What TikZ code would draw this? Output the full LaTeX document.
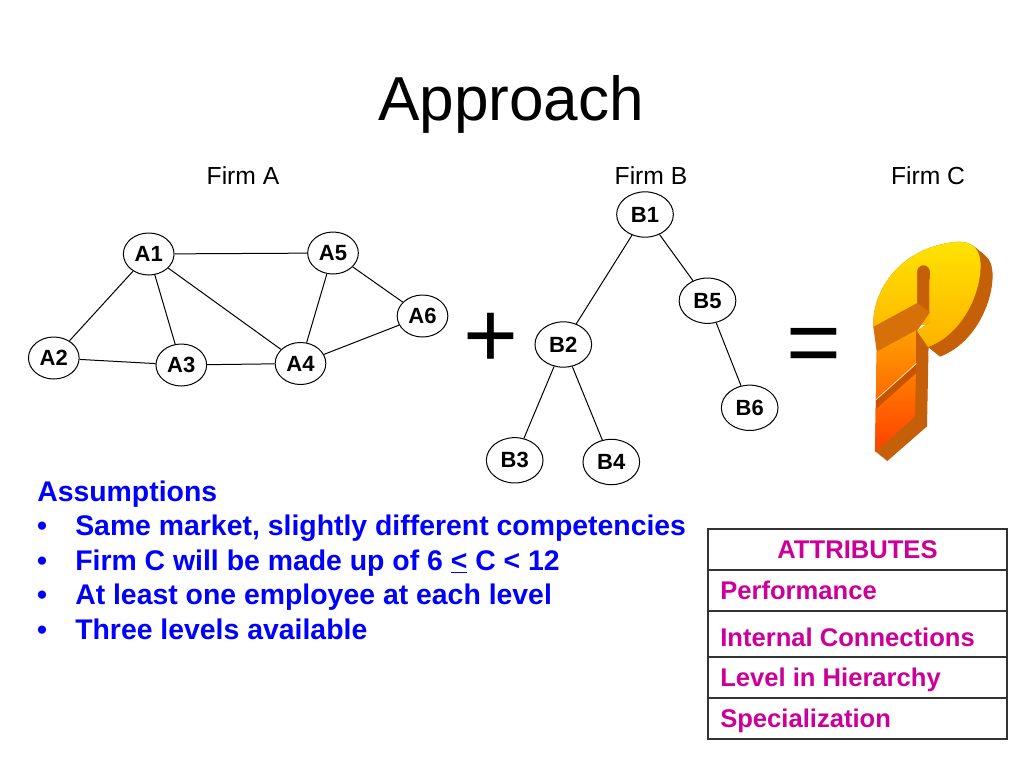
\documentclass[tikz,border=0pt]{standalone}
\usepackage{fontspec}
\setmainfont{Liberation Sans}
\usetikzlibrary{shapes.geometric}
\definecolor{asblue}{RGB}{0,0,255}
\definecolor{attr}{RGB}{204,0,153}
\definecolor{qside}{RGB}{198,96,8}
\definecolor{qunder}{RGB}{214,112,8}
\definecolor{qyel}{RGB}{255,228,0}
\definecolor{qyel2}{RGB}{255,178,0}
\definecolor{qora2}{RGB}{255,160,0}
\definecolor{qred}{RGB}{255,64,0}
\definecolor{qbrk}{RGB}{200,84,0}
\begin{document}
\begin{tikzpicture}[x=0.75pt,y=-0.75pt,
  every node/.style={inner sep=0pt},
  anode/.style={ellipse,draw,line width=0.75pt,minimum width=38pt,minimum height=31.5pt,font=\fontsize{16.5}{18}\selectfont\bfseries},
  bnode/.style={anode,minimum width=42.5pt,minimum height=34pt},
  link/.style={line width=0.75pt},
  firm/.style={anchor=base,font=\fontsize{18.5}{22}\selectfont},
  assume/.style={anchor=base west,font=\fontsize{21.3}{25}\selectfont\bfseries,text=asblue},
  bul/.style={anchor=base,font=\fontsize{21.3}{25}\selectfont\bfseries,text=asblue},
  attrtext/.style={anchor=base west,font=\fontsize{19.2}{22}\selectfont\bfseries,text=attr},
  tbl/.style={line width=1.1pt,draw=black!80},
  bigsym/.style={anchor=base,font=\fontsize{70.5}{80}\selectfont},
  hookpath/.style={insert path={(873.3,326.7) .. controls (872,290) and (900,248) .. (955,242) .. controls (975,240) and (983,252) .. (980,275) .. controls (977,300) and (960,335) .. (928,347) -- (917,331) -- (930,322) -- (930,272) .. controls (930,263) and (917,263) .. (917,272) -- (917,303) -- cycle}},
  stempath/.style={insert path={(876.7,351.7) -- (916.7,330) -- (915,416.7) -- (875,451.7) -- cycle}},
  underpath/.style={insert path={(873.3,326.7) -- (917,303) -- (930,312) -- (917,331) -- (876.7,351.7) -- cycle}},
]
\useasboundingbox (0,0) rectangle (1024,768);

% title and firm labels
\node[anchor=base,font=\fontsize{46.6}{54}\selectfont] (title) at (511,120) {Approach};
\node[firm] (firmA) at (243,184) {Firm A};
\node[firm] (firmB) at (651,184) {Firm B};
\node[firm] (firmC) at (928,184) {Firm C};

% Firm A network
\node[anode] (A1) at (148.7,254) {A1};
\node[anode] (A5) at (333,253) {A5};
\node[anode] (A6) at (422.5,316) {A6};
\node[anode] (A2) at (53.8,358) {A2};
\node[anode] (A3) at (181.3,365) {A3};
\node[anode] (A4) at (300.5,363.5) {A4};
\draw[link] (A1) -- (A5);
\draw[link] (A1) -- (A2);
\draw[link] (A1) -- (A3);
\draw[link] (A1) -- (A4);
\draw[link] (A2) -- (A3);
\draw[link] (A3) -- (A4);
\draw[link] (A4) -- (A5);
\draw[link] (A5) -- (A6);
\draw[link] (A6) -- (A4);

% Firm B hierarchy
\node[bnode] (B1) at (645,214.5) {B1};
\node[bnode] (B5) at (707.5,300.7) {B5};
\node[bnode] (B2) at (563.3,344.5) {B2};
\node[bnode] (B6) at (749.7,407.8) {B6};
\node[bnode] (B3) at (514.7,460.3) {B3};
\node[bnode] (B4) at (611.3,462) {B4};
\draw[link] (B1) -- (B2);
\draw[link] (B1) -- (B5);
\draw[link] (B5) -- (B6);
\draw[link] (B2) -- (B3);
\draw[link] (B2) -- (B4);

% plus and equals
\node[bigsym] (plus) at (491,367.7) {+};
\node[bigsym] (equals) at (814,374) {=};

% question mark (Firm C)
\fill[qyel2] (917,266) rectangle (930,325);
\foreach \t in {0,0.5,...,12} {
  \fill[qside,shift={(\t,0.8*\t)},hookpath];
  \fill[qside,shift={(\t,0.8*\t)},stempath];
}
\fill[qunder,underpath];
\shade[top color=qyel,bottom color=qyel2,hookpath];
\shade[top color=qora2,bottom color=qred,stempath];
\fill[qbrk] (916.4,364) -- (916.2,373) -- (876,409) -- (876.2,400) -- cycle;
\draw[white!70!qora2,line width=0.6pt] (916.4,363.5) -- (876.2,399.5);

% assumptions
\node[assume] (asm) at (37,501.5) {Assumptions};
\node[bul] (b1) at (42,535.5) {•};
\node[assume] (t1) at (75,535.5) {Same market, slightly different competencies};
\node[bul] (b2) at (42,570) {•};
\node[assume] (t2) at (75,570) {Firm C will be made up of 6 \underline{<} C < 12};
\node[bul] (b3) at (42,604.5) {•};
\node[assume] (t3) at (75,604.5) {At least one employee at each level};
\node[bul] (b4) at (42,639) {•};
\node[assume] (t4) at (75,639) {Three levels available};

% attributes table
\draw[tbl] (708,529) rectangle (1007,739);
\foreach \yy in {570,611,657,698} { \draw[tbl] (708,\yy) -- (1007,\yy); }
\node[attrtext,anchor=base] (head) at (857.5,558.3) {ATTRIBUTES};
\node[attrtext] (r1) at (720,599.3) {Performance};
\node[attrtext] (r2) at (720,646) {Internal Connections};
\node[attrtext] (r3) at (720,686.7) {Level in Hierarchy};
\node[attrtext] (r4) at (720,727.3) {Specialization};
\end{tikzpicture}
\end{document}
